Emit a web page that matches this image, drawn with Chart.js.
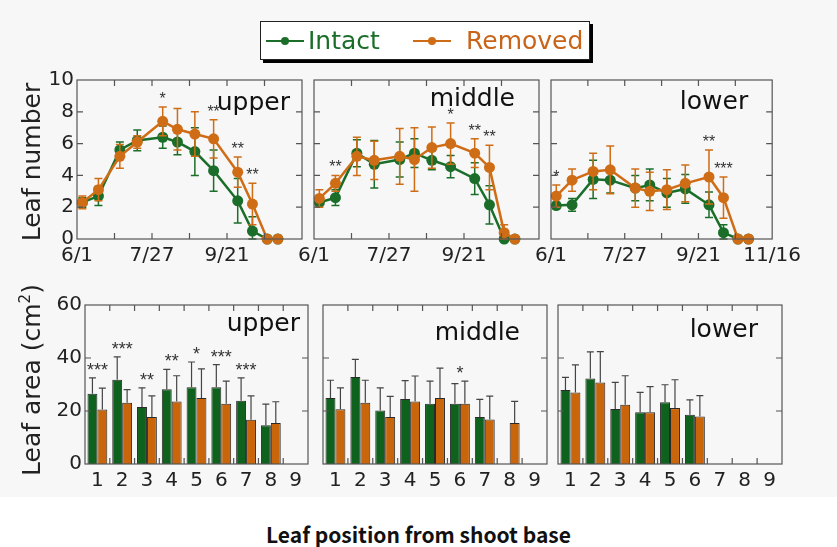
<!DOCTYPE html>
<html>
<head>
<meta charset="utf-8">
<script src="https://cdn.jsdelivr.net/npm/chart.js@4.4.1/dist/chart.umd.min.js"></script>
<style>
  html, body { margin: 0; padding: 0; }
  body { width: 837px; height: 547px; position: relative; overflow: hidden; background: #fff; font-family: 'DejaVu Sans', sans-serif; color: #222; }
  #bg { position: absolute; left: 0; top: 0; width: 837px; height: 497px; background: #f7f7f7; }
  canvas { position: absolute; }
  .ytitle { position: absolute; white-space: nowrap; transform: translate(-50%, -50%) rotate(-90deg); font-size: 25px; }
  .ytitle sup { font-size: 15px; vertical-align: 10px; }
  #legend { position: absolute; left: 260px; top: 21px; width: 330px; height: 39px; box-sizing: border-box; border: 1.5px solid #222; background: #fff; box-shadow: 3px 3px 0 #000; }
  .item { position: absolute; top: 0; height: 37px; line-height: 37px; font-size: 25px; }
  .mk { position: absolute; top: 18px; width: 38px; height: 0; border-top: 2.5px solid; }
  .mk i { position: absolute; left: 15px; top: -5.5px; width: 8px; height: 8px; border-radius: 50%; }
  #xtitle { position: absolute; left: 0; width: 837px; top: 519px; text-align: center; font: bold 21px 'Noto Sans CJK JP', sans-serif; color: #111; }
</style>
</head>
<body>
<div id="bg"></div>
<canvas id="t1"></canvas><canvas id="t2"></canvas><canvas id="t3"></canvas>
<canvas id="b1"></canvas><canvas id="b2"></canvas><canvas id="b3"></canvas>
<div class="ytitle" style="left:31px; top:162px;">Leaf number</div>
<div class="ytitle" style="left:31px; top:380px;">Leaf area (cm<sup>2</sup>)</div>
<div id="legend">
  <div class="mk" style="left:5px; border-color:#1b6e2a;"><i style="background:#1b6e2a;"></i></div>
  <div class="item" style="left:47px; color:#1b6e2a;">Intact</div>
  <div class="mk" style="left:152px; border-color:#cf6d16;"><i style="background:#cf6d16;"></i></div>
  <div class="item" style="left:205px; color:#c8651a;">Removed</div>
</div>
<div id="xtitle">Leaf position from shoot base</div>
<script>
// sampling days counted from 6/1
const days = [4, 16, 32, 45, 64, 75, 88, 102, 120, 131, 142, 150];
const dateTicks = [0, 56, 112, 168];
const dateLabels = ['6/1', '7/27', '9/21', '11/16'];

const upperIntact = [2.3, 2.7, 5.6, 6.2, 6.4, 6.1, 5.5, 4.3, 2.4, 0.5, 0, 0];
const upperIntactSd = [0.3, 0.6, 0.5, 0.65, 0.7, 0.8, 1.5, 1.3, 1.4, 0.9, 0, 0];
const upperRemoved = [2.3, 3.1, 5.2, 6.1, 7.4, 6.9, 6.6, 6.3, 4.2, 2.2, 0, 0];
const upperRemovedSd = [0.4, 0.7, 0.75, 0.4, 0.9, 1.3, 1.4, 1.2, 0.95, 1.3, 0, 0];
const upperSig = ['', '', '', '', '*', '', '', '**', '**', '**', '', ''];

const middleIntact = [2.3, 2.6, 5.4, 4.7, 5.0, 5.4, 4.95, 4.55, 3.8, 2.15, 0, 0];
const middleIntactSd = [0.2, 0.5, 0.85, 1.5, 1.1, 0.9, 0.6, 0.7, 1.0, 1.2, 0, 0];
const middleRemoved = [2.55, 3.5, 5.2, 4.95, 5.2, 5.0, 5.75, 6.0, 5.4, 4.5, 0.4, 0];
const middleRemovedSd = [0.55, 0.5, 1.2, 1.2, 1.75, 2.0, 1.3, 1.3, 0.9, 1.4, 0.5, 0];
const middleSig = ['', '**', '', '', '', '', '', '*', '**', '**', '', ''];

const lowerIntact = [2.1, 2.15, 3.75, 3.7, 3.2, 3.4, 2.9, 3.15, 2.15, 0.4, 0, 0];
const lowerIntactSd = [0.2, 0.4, 1.2, 0.8, 0.8, 1.0, 0.9, 0.9, 0.8, 0.5, 0, 0];
const lowerRemoved = [2.7, 3.7, 4.25, 4.35, 3.2, 3.0, 3.1, 3.5, 3.9, 2.6, 0, 0];
const lowerRemovedSd = [0.7, 0.7, 1.15, 1.5, 1.2, 1.2, 1.25, 1.15, 1.7, 1.3, 0, 0];
const lowerSig = ['*', '', '', '', '', '', '', '', '**', '***', '', ''];

const positions = ['1', '2', '3', '4', '5', '6', '7', '8', '9'];

const areaUpperIntact = [26.5, 31.8, 21.5, 28.2, 29.0, 29.0, 23.9, 14.6, null];
const areaUpperIntactSd = [6, 8.6, 7.2, 7.5, 9.5, 8.5, 8.6, 8, null];
const areaUpperRemoved = [20.6, 23.1, 17.7, 23.6, 24.9, 22.7, 16.7, 15.5, null];
const areaUpperRemovedSd = [8, 5, 8, 9.7, 11, 8.6, 9, 8, null];
const areaUpperSig = ['***', '***', '**', '**', '*', '***', '***', '', ''];

const areaMiddleIntact = [24.9, 32.8, 20.2, 24.5, 22.7, 22.7, 17.7, null, null];
const areaMiddleIntactSd = [6.7, 6.7, 8.5, 7, 8.6, 7.6, 6.7, null, null];
const areaMiddleRemoved = [20.7, 23.1, 17.7, 23.6, 24.9, 22.7, 16.8, 15.5, null];
const areaMiddleRemovedSd = [8, 8.5, 7.8, 9.6, 11.3, 8.6, 8.8, 8.1, null];
const areaMiddleSig = ['', '', '', '', '', '*', '', '', ''];

const areaLowerIntact = [27.9, 32.3, 20.8, 19.5, 23.3, 18.6, null, null, null];
const areaLowerIntactSd = [4.8, 10, 10, 7.5, 6.6, 5.6, null, null, null];
const areaLowerRemoved = [27.0, 30.8, 22.4, 19.5, 21.1, 17.9, null, null, null];
const areaLowerRemovedSd = [10.4, 11.6, 10.9, 9.7, 10.7, 7.9, null, null, null];
const areaLowerSig = ['', '', '', '', '', '', '', '', ''];

const GREEN = '#1b6e2a', ORANGE = '#cf6d16';
const GREEN_BAR = '#0f621d', ORANGE_BAR = '#c9650a';

Chart.defaults.font.family = "'DejaVu Sans', sans-serif";
Chart.defaults.font.size = 20;
Chart.defaults.color = '#222';
Chart.defaults.animation = false;

// room around each plot area inside its canvas
const YW = 45, PT = 15, PR = 30, XH = 34;

const valueOf = (d) => (d !== null && typeof d === 'object') ? d.y : d;

const panelPlugin = {
  id: 'panel',
  beforeDatasetDraw(chart, args, o) {
    if (o.mode !== 'line') return;
    const ds = chart.data.datasets[args.index];
    const y = chart.scales.y, ctx = chart.ctx;
    ctx.save();
    ctx.strokeStyle = ds.borderColor;
    ctx.lineWidth = 1.5;
    args.meta.data.forEach((pt, i) => {
      const v = valueOf(ds.data[i]), e = ds.sd[i];
      if (v == null || !e) return;
      const hi = y.getPixelForValue(v + e), lo = y.getPixelForValue(Math.max(v - e, 0));
      ctx.beginPath();
      ctx.moveTo(pt.x, hi); ctx.lineTo(pt.x, lo);
      ctx.moveTo(pt.x - 4, hi); ctx.lineTo(pt.x + 4, hi);
      ctx.moveTo(pt.x - 4, lo); ctx.lineTo(pt.x + 4, lo);
      ctx.stroke();
    });
    ctx.restore();
  },
  afterDatasetDraw(chart, args, o) {
    if (o.mode !== 'bar') return;
    const ds = chart.data.datasets[args.index];
    const y = chart.scales.y, ctx = chart.ctx;
    ctx.save();
    ctx.strokeStyle = '#444';
    ctx.lineWidth = 1.2;
    args.meta.data.forEach((bar, i) => {
      const v = ds.data[i], e = ds.sd[i];
      if (v == null || !e) return;
      const hi = y.getPixelForValue(v + e);
      ctx.beginPath();
      ctx.moveTo(bar.x, y.getPixelForValue(v)); ctx.lineTo(bar.x, hi);
      ctx.moveTo(bar.x - 3.5, hi); ctx.lineTo(bar.x + 3.5, hi);
      ctx.stroke();
    });
    ctx.restore();
  },
  afterDraw(chart, args, o) {
    const { ctx, chartArea: a, scales: { x, y } } = chart;
    ctx.save();
    // frame with inward ticks
    ctx.strokeStyle = '#555';
    ctx.lineWidth = 1.2;
    ctx.strokeRect(a.left, a.top, a.width, a.height);
    ctx.beginPath();
    const tl = 6;
    let xs = [];
    if (o.mode === 'line') {
      xs = x.ticks.map(t => t.value).filter(v => v > x.min && v < x.max).map(v => x.getPixelForValue(v));
    } else {
      for (let i = 0; i < positions.length - 1; i++) xs.push((x.getPixelForValue(i) + x.getPixelForValue(i + 1)) / 2);
    }
    xs.forEach(px => {
      ctx.moveTo(px, a.top); ctx.lineTo(px, a.top + tl);
      ctx.moveTo(px, a.bottom); ctx.lineTo(px, a.bottom - tl);
    });
    y.ticks.map(t => t.value).filter(v => v > y.min && v < y.max).forEach(v => {
      const py = y.getPixelForValue(v);
      ctx.moveTo(a.left, py); ctx.lineTo(a.left + tl, py);
      ctx.moveTo(a.right, py); ctx.lineTo(a.right - tl, py);
    });
    ctx.stroke();

    // significance marks
    ctx.fillStyle = '#333';
    ctx.textAlign = 'center';
    ctx.textBaseline = 'alphabetic';
    ctx.font = o.starFont;
    o.sig.forEach((s, i) => {
      if (!s) return;
      let top = Infinity;
      chart.data.datasets.forEach(ds => {
        const v = valueOf(ds.data[i]);
        if (v == null) return;
        top = Math.min(top, y.getPixelForValue(v + (ds.sd[i] || 0)));
      });
      const px = o.mode === 'line' ? x.getPixelForValue(days[i]) : x.getPixelForValue(i);
      ctx.fillText(s, px, top - o.starGap);
    });

    // panel name
    ctx.fillStyle = '#111';
    ctx.textAlign = 'right';
    ctx.font = "25px 'DejaVu Sans', sans-serif";
    ctx.fillText(o.name, a.right - o.nameRight, a.top + o.nameBase);
    ctx.restore();
  }
};
Chart.register(panelPlugin);

function place(id, box) {
  const c = document.getElementById(id);
  c.width = box.r - box.l + YW + PR;
  c.height = box.b - box.t + PT + XH;
  c.style.left = (box.l - YW) + 'px';
  c.style.top = (box.t - PT) + 'px';
  return c;
}

function fixedScale(size, horizontal) {
  return (s) => { if (horizontal) s.height = size; else s.width = size; };
}

function lineChart(id, box, intact, intactSd, removed, removedSd, sig, name, nameRight, nameBase, showY, showLast) {
  const pts = (vals) => days.map((d, i) => ({ x: d, y: vals[i] }));
  new Chart(place(id, box), {
    type: 'line',
    data: {
      datasets: [
        { label: 'Intact', data: pts(intact), sd: intactSd, borderColor: GREEN, backgroundColor: GREEN,
          borderWidth: 2.5, pointRadius: 5.5, pointBorderWidth: 0, order: 2, clip: false },
        { label: 'Removed', data: pts(removed), sd: removedSd, borderColor: ORANGE, backgroundColor: ORANGE,
          borderWidth: 2.5, pointRadius: 5.5, pointBorderWidth: 0, order: 1, clip: false }
      ]
    },
    options: {
      responsive: false,
      layout: { padding: { top: PT, right: PR, left: 0, bottom: 0 } },
      plugins: {
        legend: { display: false }, tooltip: { enabled: false },
        panel: { mode: 'line', sig, name, nameRight, nameBase, starGap: 3, starFont: "16px 'Liberation Sans', sans-serif" }
      },
      scales: {
        x: {
          type: 'linear', min: 0, max: 168,
          grid: { display: false, drawTicks: false }, border: { display: false },
          afterFit: fixedScale(XH, true),
          ticks: {
            stepSize: 28, autoSkip: false, maxRotation: 0, padding: 5,
            callback: (v) => {
              const k = dateTicks.indexOf(v);
              if (k < 0 || (v === 168 && !showLast)) return '';
              return dateLabels[k];
            }
          }
        },
        y: {
          min: 0, max: 10,
          grid: { display: false, drawTicks: false }, border: { display: false },
          afterFit: fixedScale(YW, false),
          ticks: { stepSize: 2, padding: 3, callback: (v) => showY ? v : '' }
        }
      }
    }
  });
}

function barChart(id, box, intact, intactSd, removed, removedSd, sig, name, nameRight, nameBase, showY) {
  new Chart(place(id, box), {
    type: 'bar',
    data: {
      labels: positions,
      datasets: [
        { label: 'Intact', data: intact, sd: intactSd, backgroundColor: GREEN_BAR, borderColor: '#2a2a2a',
          borderWidth: 1, categoryPercentage: 0.8, barPercentage: 1 },
        { label: 'Removed', data: removed, sd: removedSd, backgroundColor: ORANGE_BAR, borderColor: '#2a2a2a',
          borderWidth: 1, categoryPercentage: 0.8, barPercentage: 1 }
      ]
    },
    options: {
      responsive: false,
      layout: { padding: { top: PT, right: PR, left: 0, bottom: 0 } },
      plugins: {
        legend: { display: false }, tooltip: { enabled: false },
        panel: { mode: 'bar', sig, name, nameRight, nameBase, starGap: 2, starFont: "18px 'Liberation Sans', sans-serif" }
      },
      scales: {
        x: {
          grid: { display: false, drawTicks: false }, border: { display: false },
          afterFit: fixedScale(XH, true),
          ticks: { autoSkip: false, maxRotation: 0, padding: 5 }
        },
        y: {
          min: 0, max: 60,
          grid: { display: false, drawTicks: false }, border: { display: false },
          afterFit: fixedScale(YW, false),
          ticks: { stepSize: 10, padding: 3, callback: (v) => (showY && v % 20 === 0) ? v : '' }
        }
      }
    }
  });
}

lineChart('t1', { l: 77, r: 302, t: 80, b: 239 }, upperIntact, upperIntactSd, upperRemoved, upperRemovedSd, upperSig, 'upper', 12, 30, true, false);
lineChart('t2', { l: 314, r: 539, t: 80, b: 239 }, middleIntact, middleIntactSd, middleRemoved, middleRemovedSd, middleSig, 'middle', 24, 26, false, false);
lineChart('t3', { l: 551, r: 776, t: 80, b: 239 }, lowerIntact, lowerIntactSd, lowerRemoved, lowerRemovedSd, lowerSig, 'lower', 24, 29, false, true);

barChart('b1', { l: 85, r: 308, t: 305, b: 464 }, areaUpperIntact, areaUpperIntactSd, areaUpperRemoved, areaUpperRemovedSd, areaUpperSig, 'upper', 8, 26, true);
barChart('b2', { l: 323, r: 547, t: 305, b: 464 }, areaMiddleIntact, areaMiddleIntactSd, areaMiddleRemoved, areaMiddleRemovedSd, areaMiddleSig, 'middle', 27, 35, false);
barChart('b3', { l: 558, r: 782, t: 305, b: 464 }, areaLowerIntact, areaLowerIntactSd, areaLowerRemoved, areaLowerRemovedSd, areaLowerSig, 'lower', 24, 32, false);
</script>
</body>
</html>
